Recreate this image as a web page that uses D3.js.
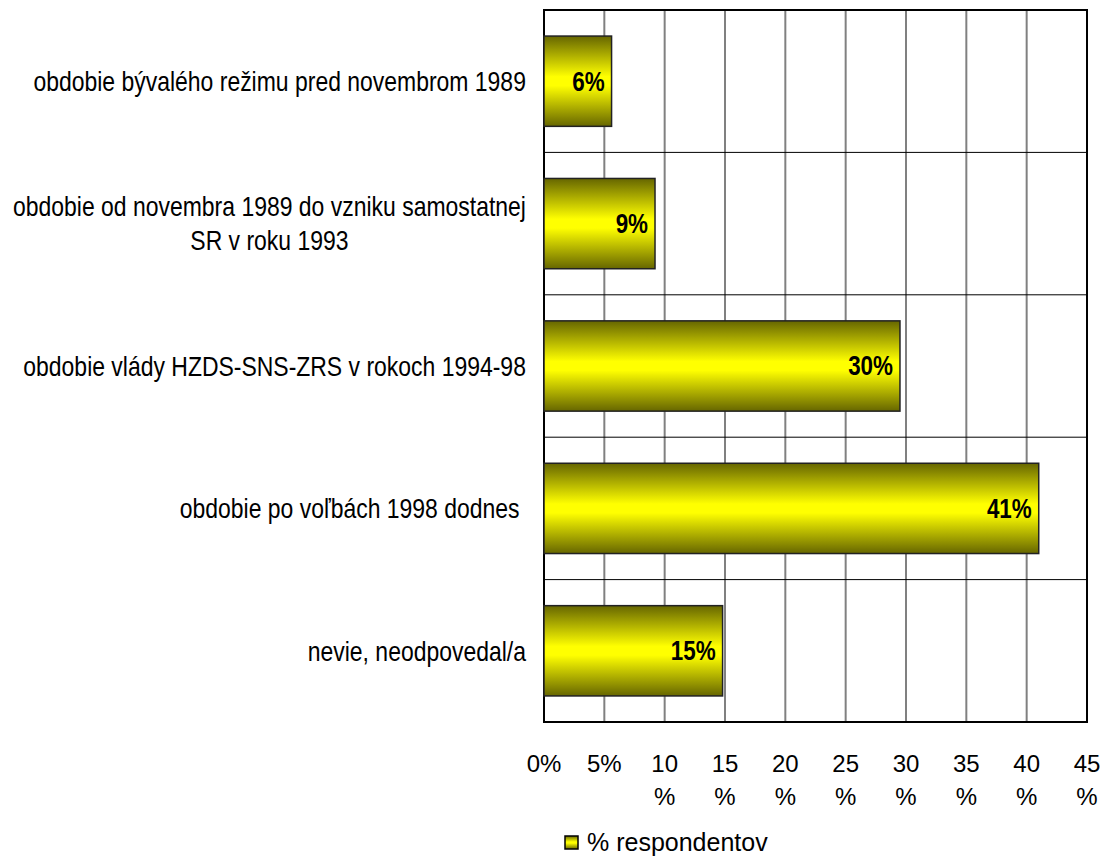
<!DOCTYPE html>
<html lang="sk">
<head>
<meta charset="utf-8">
<title>Obdobie</title>
<script src="https://cdn.jsdelivr.net/npm/d3@7"></script>
<style>
  body { margin: 0; background: #fff; }
  text { font-family: "Liberation Sans", Arial, sans-serif; fill: #000; }
  .cat { font-size: 28px; white-space: pre; }
  .tick-lbl { font-size: 24px; }
  .leg-lbl { font-size: 25px; }
  .val { font-size: 27px; font-weight: bold; }
</style>
</head>
<body>
<script>
// data
var categories = [
  ["obdobie bývalého režimu pred novembrom 1989"],
  ["obdobie od novembra 1989 do vzniku samostatnej", "SR v roku 1993"],
  ["obdobie vlády HZDS-SNS-ZRS v rokoch 1994-98"],
  ["obdobie po voľbách 1998 dodnes "],
  ["nevie, neodpovedal/a"]
];
var values = [5.6, 9.2, 29.5, 41.0, 14.8];
var valueLabels = ["6%", "9%", "30%", "41%", "15%"];
var ticks = [0, 5, 10, 15, 20, 25, 30, 35, 40, 45];
var seriesName = "% respondentov";

var W = 1106, H = 857;
var plotL = 544, plotR = 1087, plotT = 10, plotB = 722;
var catSX = 0.82, valSX = 0.83; // narrow look of the original font

var svg = d3.select("body").append("svg")
  .attr("width", W).attr("height", H);

var x = d3.scaleLinear().domain([0, 45]).range([plotL, plotR]);
var y = d3.scaleBand().domain(d3.range(categories.length)).range([plotT, plotB]).paddingInner(0.366).paddingOuter(0.183);
var rows = d3.scaleBand().domain(d3.range(categories.length)).range([plotT, plotB]);

// gradient for bars
var grad = svg.append("defs").append("linearGradient")
  .attr("id", "barGrad").attr("x1", 0).attr("y1", 0).attr("x2", 0).attr("y2", 1);
grad.append("stop").attr("offset", "0%").attr("stop-color", "#666600");
grad.append("stop").attr("offset", "45%").attr("stop-color", "#ffff00");
grad.append("stop").attr("offset", "55%").attr("stop-color", "#ffff00");
grad.append("stop").attr("offset", "100%").attr("stop-color", "#666600");

// vertical grid (gray)
svg.append("g").selectAll("line")
  .data(ticks.slice(1, -1)).enter().append("line")
  .attr("x1", function(d) { return x(d); }).attr("x2", function(d) { return x(d); })
  .attr("y1", plotT).attr("y2", plotB)
  .attr("stroke", "#808080").attr("stroke-width", 2);

// horizontal separators (black)
svg.append("g").selectAll("line")
  .data(d3.range(1, categories.length)).enter().append("line")
  .attr("x1", plotL).attr("x2", plotR)
  .attr("y1", function(d) { return rows(d); }).attr("y2", function(d) { return rows(d); })
  .attr("stroke", "#000").attr("stroke-width", 1);

// frame
svg.append("rect")
  .attr("x", plotL).attr("y", plotT).attr("width", plotR - plotL).attr("height", plotB - plotT)
  .attr("fill", "none").attr("stroke", "#000").attr("stroke-width", 2);

// bars
svg.append("g").selectAll("rect")
  .data(values).enter().append("rect")
  .attr("x", x(0))
  .attr("y", function(d, i) { return y(i); })
  .attr("width", function(d) { return x(d) - x(0); })
  .attr("height", y.bandwidth())
  .attr("fill", "url(#barGrad)")
  .attr("stroke", "#222").attr("stroke-width", 1.5);

// value labels
svg.append("g").selectAll("text")
  .data(values).enter().append("text")
  .attr("class", "val")
  .attr("transform", function(d, i) {
    return "translate(" + (x(d) - 7) + "," + (y(i) + y.bandwidth() / 2) + ") scale(" + valSX + ",1)";
  })
  .attr("dy", "0.35em")
  .attr("text-anchor", "end")
  .text(function(d, i) { return valueLabels[i]; });

// category labels
var catG = svg.append("g");
categories.forEach(function(lines, i) {
  var cy = rows(i) + rows.bandwidth() / 2;
  var lh = 34;
  var texts = lines.map(function(line, j) {
    return catG.append("text").attr("class", "cat")
      .attr("text-anchor", "middle")
      .attr("dy", "0.35em")
      .text(line);
  });
  var widths = texts.map(function(t) { return t.node().getComputedTextLength() * catSX; });
  var cx = 526 - d3.max(widths) / 2;
  texts.forEach(function(t, j) {
    var ty = cy + (j - (lines.length - 1) / 2) * lh;
    t.attr("transform", "translate(" + cx + "," + ty + ") scale(" + catSX + ",1)");
  });
});

// x tick labels (wrapped like the original)
var tickG = svg.append("g");
ticks.forEach(function(d) {
  var t = tickG.append("text").attr("class", "tick-lbl").attr("text-anchor", "middle");
  if (d < 10) {
    t.append("tspan").attr("x", x(d)).attr("y", 772).text(d + "%");
  } else {
    t.append("tspan").attr("x", x(d)).attr("y", 772).text(String(d));
    t.append("tspan").attr("x", x(d)).attr("y", 805).text("%");
  }
});

// legend
var leg = svg.append("g").attr("transform", "translate(565,836)");
leg.append("rect").attr("width", 13).attr("height", 13)
  .attr("fill", "url(#barGrad)").attr("stroke", "#000").attr("stroke-width", 1.5);
leg.append("text").attr("class", "leg-lbl").attr("x", 22).attr("y", 15).text(seriesName);
</script>
</body>
</html>
